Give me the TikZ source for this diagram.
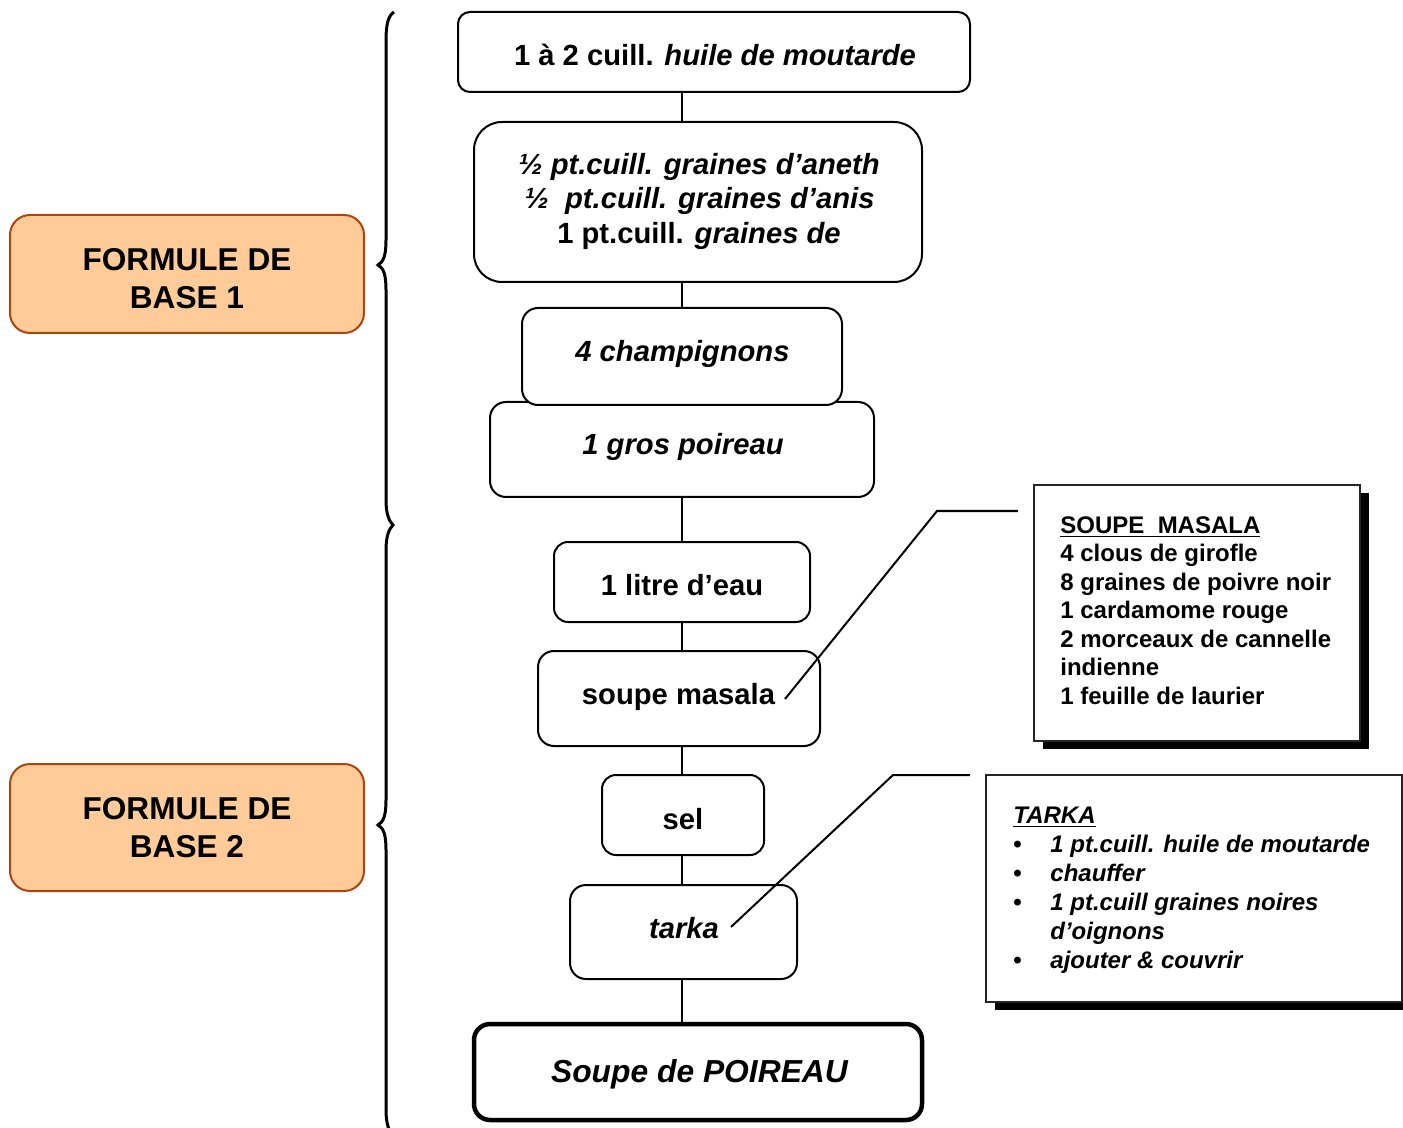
\documentclass[tikz,border=0pt]{standalone}
\usepackage{fontspec}
\setmainfont{Liberation Sans}
\usetikzlibrary{shadows}
\definecolor{fbfill}{RGB}{255,204,153}
\definecolor{fbdraw}{RGB}{176,68,12}
\begin{document}
\begin{tikzpicture}[x=0.5pt,y=-0.5pt,
  box/.style={draw, line width=1pt, rounded corners=#1, fill=white, inner sep=0pt},
  box/.default=7pt,
  lbl/.style={font=\fontsize{14.6}{17.25}\selectfont\bfseries, inner sep=0pt, anchor=base},
  ilbl/.style={lbl, font=\fontsize{14.6}{17.25}\selectfont\bfseries\itshape},
  fbox/.style={draw=fbdraw, fill=fbfill, line width=1pt, rounded corners=10pt, inner sep=0pt,
    minimum width=177pt},
  fblbl/.style={font=\fontsize{15.8}{19}\selectfont\bfseries, inner sep=0pt, anchor=base},
  note/.style={draw=black!85, line width=1pt, fill=white, inner sep=0pt,
    drop shadow={shadow xshift=4.5pt, shadow yshift=-4pt, fill=black, opacity=1}},
  conn/.style={line width=1pt},
  brace/.style={line width=1.5pt}]
\useasboundingbox (0,0) rectangle (1403,1128);

% left braces
\draw[brace] (394,12) .. controls (388,16) and (386,24) .. (386,42) -- (386,240)
  .. controls (386,257) and (383,262) .. (378,265)
  .. controls (383,268) and (386,273) .. (386,290) -- (386,500)
  .. controls (386,514) and (389,521) .. (393,525)
  .. controls (389,529) and (386,536) .. (386,550) -- (386,800)
  .. controls (386,817) and (383,822) .. (378,825)
  .. controls (383,828) and (386,833) .. (386,850) -- (386,1110)
  .. controls (386,1124) and (389,1131) .. (393,1136);

% formule boxes
\node[fbox, minimum height=59pt] (fb1) at (187,274) {};
\node[fblbl] (fb1a) at (187,271) {FORMULE DE};
\node[fblbl] (fb1b) at (187,309) {BASE 1};
\node[fbox, minimum height=63.5pt] (fb2) at (187,827.5) {};
\node[fblbl] (fb2a) at (187,819) {FORMULE DE};
\node[fblbl] (fb2b) at (187,857) {BASE 2};

% main chain boxes
\node[box=6pt, minimum width=256pt, minimum height=40pt] (b1) at (714,52) {};
\node[lbl] (t1) at (715,66) {1 à 2 cuill. \textit{huile de moutarde}};

\node[box=14pt, minimum width=224pt, minimum height=80pt] (b2) at (698,202) {};
\node[ilbl] (t2a) at (699,175) {½ pt.cuill. graines d’aneth};
\node[ilbl] (t2b) at (699.5,209) {½\ \ pt.cuill. graines d’anis};
\node[lbl] (t2c) at (699,244) {1 pt.cuill. \textit{graines de}};

\node[box=8pt, minimum width=192pt, minimum height=47.5pt] (b4) at (682,449.5) {};
\node[ilbl] (t4) at (683,455) {1 gros poireau};
\node[box=8pt, minimum width=160pt, minimum height=48.5pt] (b3) at (682,356.5) {};
\node[ilbl] (t3) at (682.5,362) {4 champignons};

\node[box=7pt, minimum width=128pt, minimum height=40pt] (b5) at (682,582) {};
\node[lbl] (t5) at (682,595) {1 litre d’eau};

\node[box=8pt, minimum width=141pt, minimum height=47.5pt] (b6) at (679,698.5) {};
\node[lbl] (t6) at (678.5,704) {soupe masala};

\node[box=7pt, minimum width=81pt, minimum height=40pt] (b7) at (683,815) {};
\node[lbl] (t7) at (683,829) {sel};

\node[box=8pt, minimum width=113.5pt, minimum height=47pt] (b8) at (683.5,932) {};
\node[ilbl] (t8) at (684,938) {tarka};

\node[box=8pt, line width=2.25pt, minimum width=224pt, minimum height=48pt] (b9) at (698,1072) {};
\node[lbl, font=\fontsize{15.9}{19}\selectfont\bfseries\itshape] (t9) at (699.5,1082) {Soupe de POIREAU};

% connectors
\draw[conn] (b1.south -| b3.center) -- (b2.north -| b3.center);
\draw[conn] (b2.south -| b3.center) -- (b3.north);
\draw[conn] (b4.south) -- (b5.north);
\draw[conn] (b5.south) -- (b6.north -| b5.center);
\draw[conn] (b6.south -| b5.center) -- (b7.north -| b5.center);
\draw[conn] (b7.south -| b5.center) -- (b8.north -| b5.center);
\draw[conn] (b8.south -| b5.center) -- (b9.north -| b5.center);

% note boxes
\node[note, minimum width=163pt, minimum height=128pt] (mbox) at (1197,613) {};
\node[inner sep=0pt, anchor=north west, align=left,
  font=\fontsize{12}{14.25}\selectfont\bfseries] (mtext) at (1060,516)
  {\underline{SOUPE\ \ MASALA}\\4 clous de girofle\\8 graines de poivre noir\\1 cardamome rouge\\2 morceaux de cannelle\\indienne\\1 feuille de laurier};

\node[note, minimum width=208pt, minimum height=113.5pt] (tbox) at (1194,888.5) {};
\node[inner sep=0pt, anchor=north west, align=left,
  font=\fontsize{12}{14.5}\selectfont\bfseries\itshape] (ttext) at (1013,807)
  {\underline{TARKA}\\
   \makebox[18.5pt][l]{\upshape\textbullet}1 pt.cuill. huile de moutarde\\
   \makebox[18.5pt][l]{\upshape\textbullet}chauffer\\
   \makebox[18.5pt][l]{\upshape\textbullet}1 pt.cuill graines noires\\
   \hspace*{18.5pt}d’oignons\\
   \makebox[18.5pt][l]{\upshape\textbullet}ajouter \& couvrir};

% callout lines
\coordinate (m1) at (1018,511);
\coordinate (m2) at (785,699);
\draw[conn] (m1) -- (937,511) -- (m2);
\coordinate (k1) at (970,775);
\coordinate (k2) at (731,927);
\draw[conn] (k1) -- (893,775) -- (k2);
\end{tikzpicture}
\end{document}
